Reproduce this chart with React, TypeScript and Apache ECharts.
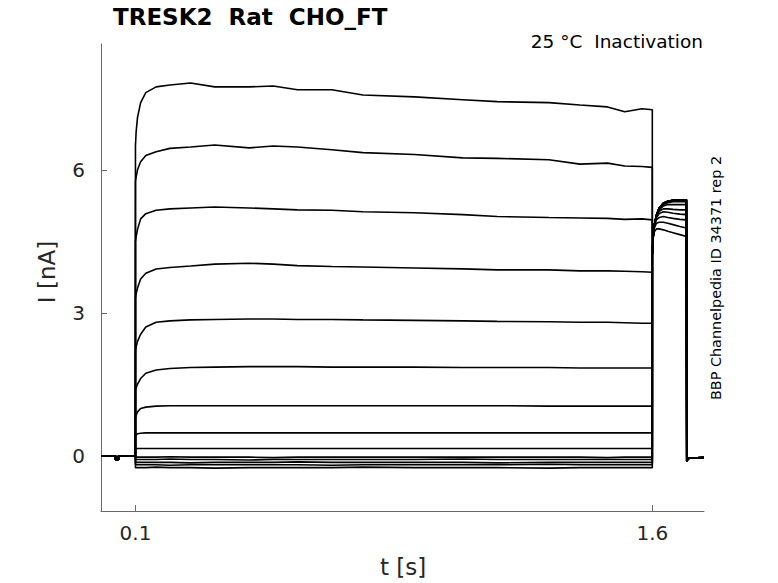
import React, { useEffect, useRef } from "react";
import * as echarts from "echarts";

// ---- data ----
const preTimes = [0, 0.042, 0.0421, 0.051, 0.0511, 0.0999];
const preValues = [0, 0, -0.08, -0.08, 0, 0];

const stepTimes = [0.1, 0.102, 0.106, 0.115, 0.13, 0.16, 0.2, 0.26, 0.33, 0.43, 0.5, 0.57, 0.67, 0.76, 0.91, 1.05, 1.15, 1.3, 1.39, 1.47, 1.52, 1.57, 1.6];
const step1 = [6.5, 6.8, 7.1, 7.41, 7.62, 7.74, 7.78, 7.82, 7.74, 7.74, 7.76, 7.68, 7.68, 7.57, 7.53, 7.47, 7.43, 7.41, 7.36, 7.32, 7.22, 7.28, 7.26];
const step2 = [5.75, 5.85, 6.0, 6.17, 6.3, 6.38, 6.45, 6.48, 6.52, 6.46, 6.5, 6.48, 6.42, 6.36, 6.32, 6.25, 6.24, 6.21, 6.12, 6.14, 6.08, 6.07, 6.05];
const step3 = [4.5, 4.6, 4.75, 4.97, 5.08, 5.15, 5.18, 5.2, 5.22, 5.2, 5.18, 5.16, 5.15, 5.12, 5.1, 5.06, 5.02, 5.0, 4.99, 4.98, 4.96, 4.97, 4.95];
const step4 = [3.3, 3.4, 3.52, 3.71, 3.83, 3.92, 3.95, 3.98, 4.02, 4.04, 4.02, 3.99, 3.97, 3.96, 3.94, 3.92, 3.9, 3.9, 3.88, 3.88, 3.87, 3.86, 3.85];
const step5 = [2.2, 2.28, 2.4, 2.55, 2.7, 2.8, 2.83, 2.85, 2.86, 2.87, 2.87, 2.86, 2.86, 2.85, 2.84, 2.83, 2.82, 2.81, 2.8, 2.8, 2.79, 2.78, 2.78];
const step6 = [1.38, 1.43, 1.5, 1.62, 1.73, 1.8, 1.83, 1.85, 1.86, 1.87, 1.87, 1.87, 1.86, 1.86, 1.86, 1.85, 1.85, 1.85, 1.84, 1.84, 1.84, 1.84, 1.84];
const step7 = [0.8, 0.85, 0.92, 0.99, 1.02, 1.04, 1.05, 1.05, 1.05, 1.05, 1.05, 1.05, 1.05, 1.05, 1.05, 1.05, 1.05, 1.04, 1.04, 1.04, 1.04, 1.04, 1.04];
const step8 = [0.42, 0.44, 0.46, 0.47, 0.48, 0.48, 0.48, 0.48, 0.48, 0.48, 0.48, 0.48, 0.48, 0.48, 0.48, 0.48, 0.48, 0.48, 0.48, 0.48, 0.48, 0.48, 0.48];
const step9 = [0.14, 0.14, 0.15, 0.15, 0.15, 0.15, 0.15, 0.15, 0.15, 0.15, 0.15, 0.15, 0.15, 0.15, 0.15, 0.15, 0.15, 0.15, 0.15, 0.15, 0.15, 0.15, 0.15];
const step10 = [-0.03, -0.03, -0.03, -0.03, -0.03, -0.03, -0.02, -0.03, -0.03, -0.03, -0.04, -0.03, -0.03, -0.03, -0.03, -0.03, -0.03, -0.03, -0.03, -0.04, -0.03, -0.03, -0.03];
const step11 = [-0.08, -0.08, -0.08, -0.08, -0.08, -0.08, -0.07, -0.08, -0.08, -0.09, -0.08, -0.08, -0.08, -0.08, -0.08, -0.07, -0.08, -0.08, -0.08, -0.08, -0.08, -0.08, -0.08];
const step12 = [-0.14, -0.14, -0.14, -0.14, -0.14, -0.14, -0.14, -0.15, -0.14, -0.14, -0.14, -0.13, -0.14, -0.14, -0.14, -0.14, -0.15, -0.14, -0.14, -0.14, -0.14, -0.14, -0.14];
const step13 = [-0.19, -0.19, -0.19, -0.19, -0.19, -0.19, -0.2, -0.19, -0.19, -0.19, -0.19, -0.19, -0.2, -0.19, -0.19, -0.19, -0.19, -0.18, -0.19, -0.19, -0.19, -0.19, -0.19];
const step14 = [-0.25, -0.25, -0.25, -0.25, -0.25, -0.24, -0.25, -0.25, -0.26, -0.25, -0.25, -0.25, -0.25, -0.24, -0.25, -0.25, -0.25, -0.26, -0.25, -0.25, -0.25, -0.25, -0.25];

const testTimes = [1.6, 1.602, 1.606, 1.612, 1.62, 1.632, 1.645, 1.66, 1.68, 1.699];
const test1 = [4.3, 4.55, 4.7, 4.76, 4.76, 4.74, 4.71, 4.68, 4.64, 4.6];
const test2 = [4.25, 4.55, 4.78, 4.88, 4.9, 4.9, 4.88, 4.85, 4.81, 4.78];
const test3 = [4.2, 4.55, 4.82, 4.95, 5.0, 5.02, 5.0, 4.98, 4.96, 4.95];
const test4 = [4.2, 4.55, 4.85, 5.0, 5.08, 5.12, 5.11, 5.09, 5.07, 5.06];
const test5 = [4.2, 4.55, 4.85, 5.02, 5.13, 5.18, 5.18, 5.17, 5.16, 5.16];
const test6 = [4.2, 4.55, 4.85, 5.03, 5.16, 5.24, 5.27, 5.27, 5.27, 5.27];
const test7 = [4.2, 4.55, 4.85, 5.04, 5.18, 5.27, 5.31, 5.33, 5.33, 5.33];
const testFull = [4.2, 4.55, 4.85, 5.05, 5.2, 5.3, 5.34, 5.36, 5.37, 5.37];

const tailTimes = [1.7, 1.703, 1.708, 1.75];
const tailValues = [-0.12, -0.07, -0.05, -0.04];

const stepSets = [step1, step2, step3, step4, step5, step6, step7, step8, step9, step10, step11, step12, step13, step14];
const testSets = [test1, test2, test3, test4, test5, test6, test7, testFull, testFull, testFull, testFull, testFull, testFull, testFull];

const xTicks = [0.1, 1.6];
const yTicks = [0, 3, 6];

function pairs(ts: number[], vs: number[]) {
  return ts.map((t, i) => [t, vs[i]]);
}

export default function App() {
  const ref = useRef<HTMLDivElement>(null);
  useEffect(() => {
    if (!ref.current) return;
    const chart = echarts.init(ref.current, null, { renderer: "svg" });
    const series = stepSets.map((s, k) => ({
      type: "line",
      data: [
        ...pairs(preTimes, preValues),
        ...pairs(stepTimes, s),
        ...pairs(testTimes, testSets[k]),
        ...pairs(tailTimes, tailValues),
      ],
      showSymbol: false,
      symbol: "none",
      silent: true,
      lineStyle: { color: "#000", width: 1.6 },
    }));
    const font = "DejaVu Sans";
    chart.setOption({
      animation: false,
      backgroundColor: "#fff",
      grid: { left: 101, right: 74, top: 44, bottom: 72 },
      xAxis: {
        type: "value",
        min: 0,
        max: 1.75,
        axisLine: { show: true, onZero: false, lineStyle: { color: "#6a6a6a", width: 1 } },
        axisTick: { show: true, inside: true, length: 6, customValues: xTicks, lineStyle: { color: "#6a6a6a" } },
        axisLabel: { customValues: xTicks, fontSize: 20, color: "#262626", fontFamily: font, margin: 12 },
        splitLine: { show: false },
      },
      yAxis: {
        type: "value",
        min: -1.16,
        max: 8.64,
        axisLine: { show: true, onZero: false, lineStyle: { color: "#6a6a6a", width: 1 } },
        axisTick: { show: true, inside: true, length: 6, customValues: yTicks, lineStyle: { color: "#6a6a6a" } },
        axisLabel: { customValues: yTicks, fontSize: 20, color: "#262626", fontFamily: font, margin: 16 },
        splitLine: { show: false },
      },
      graphic: [
        {
          type: "text",
          x: 113,
          y: 17,
          style: { text: "TRESK2  Rat  CHO_FT", fontSize: 23, fontWeight: "bold", fontFamily: font, fill: "#000", textAlign: "left", textVerticalAlign: "middle" },
        },
        {
          type: "text",
          x: 703,
          y: 41,
          style: { text: "25 °C  Inactivation", fontSize: 18.5, fontFamily: font, fill: "#000", textAlign: "right", textVerticalAlign: "middle" },
        },
        {
          type: "text",
          x: 716,
          y: 278,
          rotation: Math.PI / 2,
          style: { text: "BBP Channelpedia ID 34371 rep 2", fontSize: 14.4, fontFamily: font, fill: "#000", textAlign: "center", textVerticalAlign: "middle" },
        },
        {
          type: "text",
          x: 47,
          y: 272,
          rotation: Math.PI / 2,
          style: { text: "I [nA]", fontSize: 23, fontFamily: font, fill: "#262626", textAlign: "center", textVerticalAlign: "middle" },
        },
        {
          type: "text",
          x: 403,
          y: 567,
          style: { text: "t [s]", fontSize: 23, fontFamily: font, fill: "#262626", textAlign: "center", textVerticalAlign: "middle" },
        },
      ],
      series,
    });
    return () => chart.dispose();
  }, []);
  return (
    <div
      ref={ref}
      style={{ position: "fixed", left: 0, top: 0, width: 778, height: 583, background: "#fff" }}
    />
  );
}
